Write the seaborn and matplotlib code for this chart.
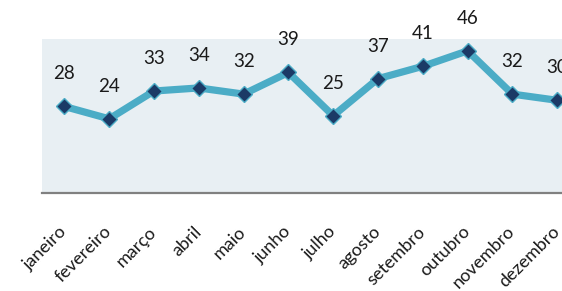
import matplotlib
matplotlib.use("Agg")
import matplotlib.pyplot as plt
import seaborn as sns
import pandas as pd

months = ["janeiro", "fevereiro", "março", "abril", "maio", "junho",
          "julho", "agosto", "setembro", "outubro", "novembro", "dezembro"]
values = [28, 24, 33, 34, 32, 39, 25, 37, 41, 46, 32, 30]

sns.set_theme(style="white")
plt.rcParams["font.family"] = ["Lato", "DejaVu Sans"]

df = pd.DataFrame({"mes": months, "valor": values})

fig = plt.figure(figsize=(5.62, 2.91), dpi=100)
ax = fig.add_axes([42 / 562, (291 - 193) / 291, 537.6 / 562, (193 - 38.5) / 291])
ax.set_facecolor("#E8EFF3")

sns.lineplot(data=df, x="mes", y="valor", sort=False, ax=ax,
             color="#4BACC6", linewidth=5.2, marker="D", markersize=8,
             markerfacecolor="#1B3A66", markeredgecolor="#4BACC6",
             markeredgewidth=1.0)

ax.set_xlim(-0.5, 11.5)
ax.set_ylim(0, 50)
ax.set_xlabel("")
ax.set_ylabel("")
ax.set_yticks([])
ax.set_xticks(range(len(months)))
ax.set_xticklabels(months, rotation=45, ha="right", va="center",
                   rotation_mode="anchor", fontsize=13, color="#1a1a1a")
ax.tick_params(axis="x", length=0, pad=26)
for lbl in ax.get_xticklabels():
    lbl.set_x(lbl.get_position()[0])

for s in ["top", "right", "left"]:
    ax.spines[s].set_visible(False)
ax.spines["bottom"].set_color("#808080")
ax.spines["bottom"].set_linewidth(1.6)

for i, v in enumerate(values):
    ax.annotate(str(v), (i, v), xytext=(0, 23.5), textcoords="offset points",
                ha="center", va="center", fontsize=13.5, color="#1a1a1a",
                annotation_clip=False)

fig.savefig("out.png", dpi=100)
